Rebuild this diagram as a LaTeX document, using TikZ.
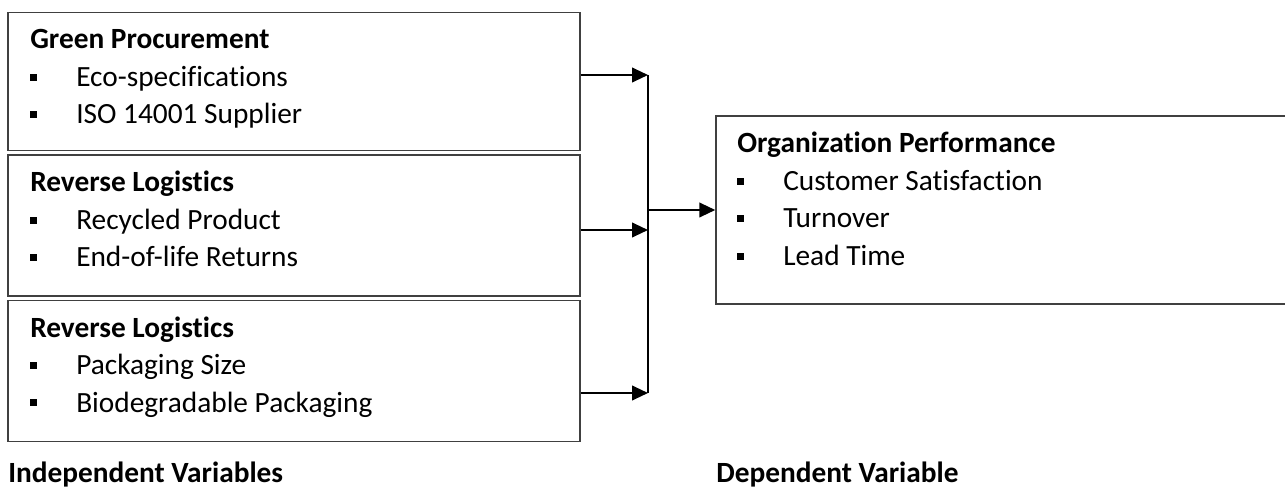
\documentclass[tikz,border=0pt]{standalone}
\usepackage{fontspec}
\setmainfont{Carlito}[Ligatures=NoCommon]
\usetikzlibrary{arrows.meta}

\newcommand{\sqbul}{\makebox[34.5pt][l]{\rule[4.3pt]{5.2pt}{5.2pt}}}

\tikzset{
  varbox/.style={draw=black!75, line width=1.1pt, inner sep=0pt, rectangle},
  head/.style={anchor=base west, inner sep=0pt, font=\fontsize{22}{26}\selectfont\bfseries},
  itm/.style={anchor=base west, inner sep=0pt, font=\fontsize{22}{26}\selectfont},
  link/.style={line width=1.5pt, black, -{Triangle[length=12pt,width=11pt]}}
}

\begin{document}
\begin{tikzpicture}[x=0.75pt,y=-0.75pt]
\useasboundingbox (0,0) rectangle (1285,488);

\coordinate (J1) at (648, 75);
\coordinate (J2) at (648,230);
\coordinate (J3) at (648,393);
\coordinate (JM) at (648,210);

% independent variables
\node[varbox, minimum width=429pt, minimum height=103.5pt] (gp) at (294, 81.5) {};
\node[varbox, minimum width=429pt, minimum height=105.75pt] (rl) at (294,225.5) {};
\node[varbox, minimum width=429pt, minimum height=105.75pt] (pk) at (294,371) {};

\node[head] (gpH)  at (30, 49) {Green Procurement};
\node[itm]  (gpI1) at (30, 86.5) {\sqbul Eco-specifications};
\node[itm]  (gpI2) at (30,124) {\sqbul ISO 14001 Supplier};

\node[head] (rlH)  at (30,192) {Reverse Logistics};
\node[itm]  (rlI1) at (30,229.5) {\sqbul Recycled Product};
\node[itm]  (rlI2) at (30,267) {\sqbul End-of-life Returns};

\node[head] (pkH)  at (30,337) {Reverse Logistics};
\node[itm]  (pkI1) at (30,374.5) {\sqbul Packaging Size};
\node[itm]  (pkI2) at (30,412) {\sqbul Biodegradable Packaging};

% dependent variable
\node[varbox, minimum width=432pt, minimum height=141pt] (op) at (1004,210) {};
\node[head] (opH)  at (737,153) {Organization Performance};
\node[itm]  (opI1) at (737,190.5) {\sqbul Customer Satisfaction};
\node[itm]  (opI2) at (737,228) {\sqbul Turnover};
\node[itm]  (opI3) at (737,265.5) {\sqbul Lead Time};

\node[head] (iv) at (8,482)   {Independent Variables};
\node[head] (dv) at (716,482) {Dependent Variable};

\draw[link] (gp.east |- J1) -- (J1);
\draw[link] (rl.east |- J2) -- (J2);
\draw[link] (pk.east |- J3) -- (J3);
\draw[line width=1.1pt] (J1) -- (J3);
\draw[link] (JM) -- (op.west |- JM);

\end{tikzpicture}
\end{document}
